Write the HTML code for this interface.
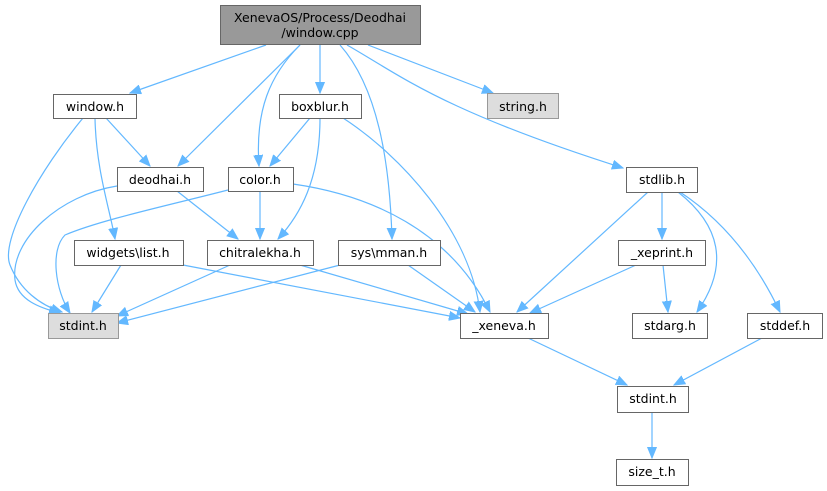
<!DOCTYPE html>
<html><head><meta charset="utf-8"><style>
html,body{margin:0;padding:0;background:#fff;width:827px;height:491px;overflow:hidden}
svg text{font-family:"DejaVu Sans","Liberation Sans",sans-serif;font-size:12.5px;fill:#000;text-anchor:middle}
.e{fill:none;stroke:#63b8ff;stroke-width:1.2}
.n{fill:#fff;stroke:#666;stroke-width:1}
</style></head><body>
<svg width="827" height="491" viewBox="0 0 827 491" xmlns="http://www.w3.org/2000/svg">
<defs><marker id="a" markerWidth="12" markerHeight="12" refX="11" refY="5" orient="auto" markerUnits="userSpaceOnUse"><path d="M0,0.5 L11,5 L0,9.5 z" fill="#63b8ff" stroke="#63b8ff"/></marker></defs>
<g marker-end="url(#a)">
<path class="e" d="M266,45 L130,93"/>
<path class="e" d="M300,45 L178,166"/>
<path class="e" d="M300,45 C270,75 255,110 259,166"/>
<path class="e" d="M320,45 L320,93"/>
<path class="e" d="M340,45 C380,90 390,170 392,239"/>
<path class="e" d="M347,45 C400,75 440,110 623,168"/>
<path class="e" d="M368,45 L493,93"/>
<path class="e" d="M83,118 C40,170 0,240 10,265 C20,290 40,305 62,312"/>
<path class="e" d="M95,118 C96,170 110,210 115,239"/>
<path class="e" d="M106,118 L150,166"/>
<path class="e" d="M310,118 L270,166"/>
<path class="e" d="M320,118 C320,180 300,215 278,239"/>
<path class="e" d="M343,118 C400,155 470,230 480,312"/>
<path class="e" d="M117,186 C60,195 10,240 15,280 C18,300 40,308 60,313"/>
<path class="e" d="M177,191 L238,239"/>
<path class="e" d="M228,190 C170,205 100,220 65,235 C50,250 55,290 70,313"/>
<path class="e" d="M260,191 L260,239"/>
<path class="e" d="M293,184 C370,195 450,230 490,312"/>
<path class="e" d="M121,265 L92,312"/>
<path class="e" d="M183,265 L460,318"/>
<path class="e" d="M230,265 L117,316"/>
<path class="e" d="M300,265 L468,314"/>
<path class="e" d="M340,265 L117,323"/>
<path class="e" d="M408,265 L475,312"/>
<path class="e" d="M648,192 L517,312"/>
<path class="e" d="M662,192 L662,239"/>
<path class="e" d="M678,192 C720,225 730,265 697,312"/>
<path class="e" d="M680,192 C730,225 760,270 780,312"/>
<path class="e" d="M636,265 L530,313"/>
<path class="e" d="M663,265 L668,312"/>
<path class="e" d="M528,338 L627,385"/>
<path class="e" d="M762,338 L674,385"/>
<path class="e" d="M652,412 L652,458"/>
</g>
<rect x="220.5" y="5.5" width="200" height="39" fill="#999" stroke="#666"/>
<text x="320" y="22">XenevaOS/Process/Deodhai</text><text x="320" y="37">/window.cpp</text>
<rect class="n" x="53.5" y="94.5" width="83" height="24"/><text x="95" y="111">window.h</text>
<rect class="n" x="279.5" y="94.5" width="82" height="24"/><text x="320" y="111">boxblur.h</text>
<rect x="487.5" y="93.5" width="71" height="25" fill="#ddd" stroke="#999"/><text x="523" y="111">string.h</text>
<rect class="n" x="117.5" y="167.5" width="86" height="24"/><text x="160" y="184">deodhai.h</text>
<rect class="n" x="228.5" y="167.5" width="65" height="24"/><text x="260" y="184">color.h</text>
<rect class="n" x="626.5" y="167.5" width="71" height="25"/><text x="662" y="184">stdlib.h</text>
<rect class="n" x="74.5" y="240.5" width="109" height="25"/><text x="128" y="257">widgets\list.h</text>
<rect class="n" x="207.5" y="240.5" width="106" height="25"/><text x="260" y="257">chitralekha.h</text>
<rect class="n" x="338.5" y="240.5" width="102" height="25"/><text x="389" y="257">sys\mman.h</text>
<rect class="n" x="618.5" y="240.5" width="87" height="25"/><text x="662" y="257">_xeprint.h</text>
<rect x="48.5" y="313.5" width="70" height="25" fill="#ddd" stroke="#999"/><text x="83" y="330">stdint.h</text>
<rect class="n" x="460.5" y="313.5" width="88" height="25"/><text x="504" y="330">_xeneva.h</text>
<rect class="n" x="632.5" y="313.5" width="75" height="25"/><text x="670" y="330">stdarg.h</text>
<rect class="n" x="747.5" y="313.5" width="75" height="25"/><text x="785" y="330">stddef.h</text>
<rect class="n" x="617.5" y="386.5" width="71" height="26"/><text x="653" y="403">stdint.h</text>
<rect class="n" x="616.5" y="459.5" width="72" height="26"/><text x="652" y="476">size_t.h</text>
</svg>
</body></html>
